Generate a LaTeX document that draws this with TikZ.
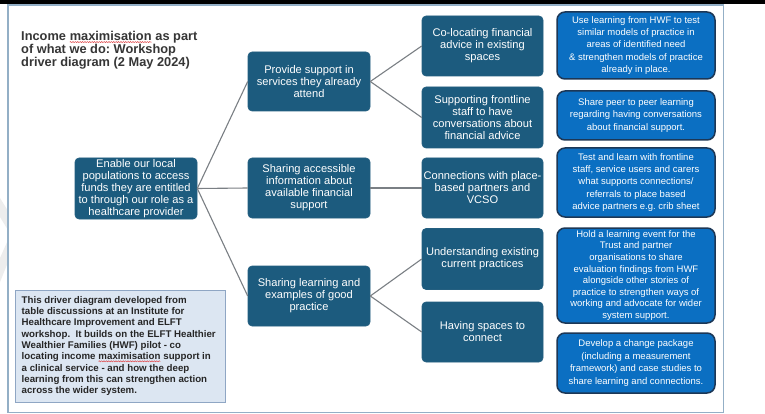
\documentclass[tikz,border=0pt]{standalone}
\usepackage{fontspec}
\setmainfont{Liberation Sans}
\usetikzlibrary{decorations.pathmorphing}
\frenchspacing

\definecolor{drvdark}{HTML}{1C5B7E}
\definecolor{drvedge}{HTML}{245F80}
\definecolor{actblue}{HTML}{0B6FC2}
\definecolor{actedge}{HTML}{1C3756}
\definecolor{linkgray}{HTML}{7A7F84}
\definecolor{framecol}{HTML}{93AFC6}
\definecolor{notefill}{HTML}{DCE6F2}
\definecolor{noteedge}{HTML}{8FA6C4}
\definecolor{titlecol}{HTML}{363636}
\definecolor{spellred}{HTML}{E0484A}

% word with a red wavy underline
\newcommand\squigword[1]{\tikz[baseline=(sqw.base)]{%
  \node[inner sep=0pt, outer sep=0pt, minimum width=0pt, minimum height=0pt,
        draw=none, fill=none, anchor=base] (sqw) {#1};
  \draw[spellred, line width=0.5pt, decorate,
        decoration={snake, amplitude=0.55pt, segment length=2.4pt}]
        ([yshift=-1.6pt]sqw.base west) -- ([yshift=-1.6pt]sqw.base east);}}

\begin{document}
\begin{tikzpicture}[x=1pt, y=-1pt,
  drv/.style={draw=drvedge, fill=drvdark, rounded corners=4pt, text=white,
    align=center, font=\fontsize{11.1}{12}\selectfont, inner sep=1pt,
    line width=0.6pt},
  act/.style={draw=actedge, fill=actblue, rounded corners=8pt,
    line width=1.5pt, text=white, align=center,
    font=\fontsize{9.5}{12.4}\selectfont, inner sep=1pt,
    minimum width=158pt},
  link/.style={draw=linkgray, line width=1.1pt}]

% canvas and frame
\fill[white] (0,0) rectangle (765,414);
\useasboundingbox (0,0) rectangle (765,414);
\fill[gray!14] (0,198) -- (8,211) -- (8,230) -- (0,217) -- cycle;
\fill[gray!14] (0,258) -- (8,240) -- (8,262) -- (0,282) -- cycle;
\draw[framecol, line width=1.2pt] (8,5) rectangle (723.5,412.5);
\fill[black] (0,0) rectangle (765,4.5);

% title
\node[anchor=north west, inner sep=0pt, align=left, text=titlecol,
      font=\fontsize{12.8}{13}\selectfont\bfseries] (title) at (21,31)
  {Income \squigword{maximisation} as part\\of what we do: Workshop\\driver diagram (2 May 2024)};

% goal
\node[drv, minimum width=122pt, minimum height=61pt] (root) at (136,188.5)
  {Enable our local\\populations to access\\funds they are entitled\\to through our role as a\\healthcare provider};

% primary drivers
\node[drv, minimum width=122pt, minimum height=59pt] (m1) at (309,81.5)
  {Provide support in\\services they already\\attend};
\node[drv, minimum width=122pt, minimum height=60pt] (m2) at (309,188)
  {Sharing accessible\\information about\\available financial\\support};
\node[drv, minimum width=122pt, minimum height=60pt] (m3) at (309,296)
  {Sharing learning and\\examples of good\\practice};

% secondary drivers
\node[drv, minimum width=121pt, minimum height=60pt] (r1) at (482.5,46)
  {Co-locating financial\\advice in existing\\spaces};
\node[drv, minimum width=121pt, minimum height=61pt] (r2) at (482.5,117.5)
  {Supporting frontline\\staff to have\\conversations about\\financial advice};
\node[drv, minimum width=121pt, minimum height=60pt] (r3) at (482.5,188)
  {Connections with place-\\based partners and\\VCSO};
\node[drv, minimum width=121pt, minimum height=61pt] (r4) at (482.5,259)
  {Understanding existing\\current practices};
\node[drv, minimum width=121pt, minimum height=60pt] (r5) at (482.5,332)
  {Having spaces to\\connect};

% change ideas
\node[act, minimum height=67pt] (a1) at (636,45.5)
  {Use learning from HWF to test\\similar models of practice in\\areas of identified need\\\& strengthen models of practice\\already in place.};
\node[act, minimum height=49pt] (a2) at (636,115.5)
  {Share peer to peer learning\\regarding having conversations\\about financial support.};
\node[act, minimum height=69pt] (a3) at (636,182.5)
  {Test and learn with frontline\\staff, service users and carers\\what supports connections/\\referrals to place based\\advice partners e.g. crib sheet};
\node[act, minimum height=95pt, font=\fontsize{9.5}{11.6}\selectfont] (a4) at (636,275.5)
  {Hold a learning event for the\\Trust and partner\\organisations to share\\evaluation findings from HWF\\alongside other stories of\\practice to strengthen ways of\\working and advocate for wider\\system support.};
\node[act, minimum height=60pt] (a5) at (636,363)
  {Develop a change package\\(including a measurement\\framework) and case studies to\\share learning and connections.};

% note
\node[draw=noteedge, fill=notefill, line width=1.1pt, anchor=north west,
      minimum width=210pt, minimum height=112pt, inner sep=0pt] (note) at (15,290) {};
\node[anchor=north west, inner sep=0pt, align=left, text=black!85,
      font=\fontsize{9.7}{11.3}\selectfont\bfseries] (notetext) at (21.5,296)
  {This driver diagram developed from\\table discussions at an Institute for\\Healthcare Improvement and ELFT\\workshop.\ \ It builds on the ELFT Healthier\\Wealthier Families (HWF) pilot - co\\locating income \squigword{maximisation} support in\\a clinical service - and how the deep\\learning from this can strengthen action\\across the wider system.};

% connectors
\draw[link] (root.east) -- (m1.west);
\draw[link] (root.east) -- (m2.west);
\draw[link] (root.east) -- (m3.west);
\draw[link] (m1.east) -- (r1.west);
\draw[link] (m1.east) -- (r2.west);
\draw[link] (m2.east) -- (r3.west);
\draw[link] (m3.east) -- (r4.west);
\draw[link] (m3.east) -- (r5.west);
\end{tikzpicture}
\end{document}
